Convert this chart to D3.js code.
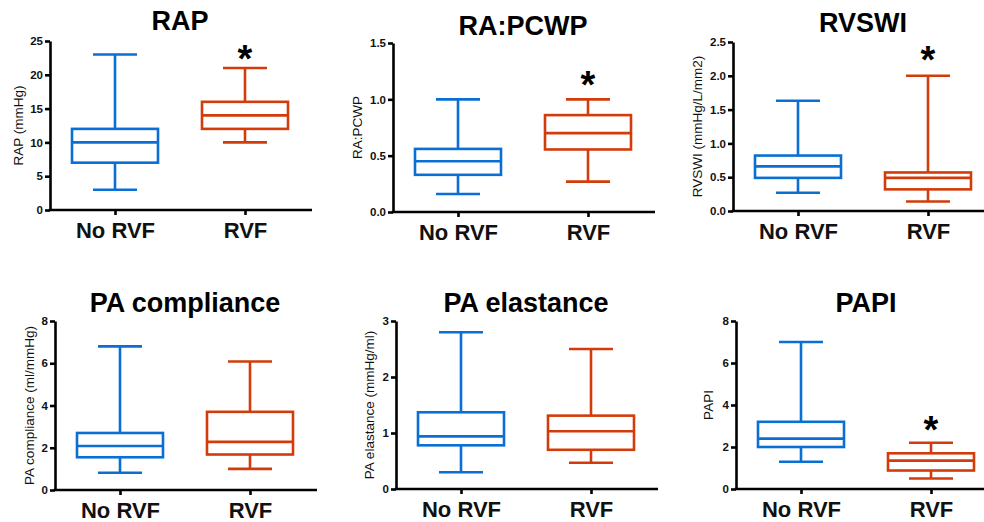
<!DOCTYPE html>
<html>
<head>
<meta charset="utf-8">
<script src="https://cdn.jsdelivr.net/npm/d3@7"></script>
<style>
  body { margin: 0; background: #fff; }
  svg { display: block; font-family: "Liberation Sans", Arial, sans-serif; }
  .axis path, .axis line { stroke: #000; stroke-width: 2.6; }
  .axis text { font-size: 11.5px; font-weight: bold; fill: #111; }
</style>
</head>
<body>
<div id="chart"></div>
<script>
// data: [min, q1, median, q3, max]
const groups = ["No RVF", "RVF"];
const titles = ["RAP", "RA:PCWP", "RVSWI", "PA compliance", "PA elastance", "PAPI"];
const yLabels = ["RAP (mmHg)", "RA:PCWP", "RVSWI (mmHg/L/mm2)", "PA compliance (ml/mmHg)", "PA elastance (mmHg/ml)", "PAPI"];
const yMax = [25, 1.5, 2.5, 8, 3, 8];
const yStep = [5, 0.5, 0.5, 2, 1, 2];
const tickFormats = ["d", ".1f", ".1f", "d", "d", "d"];
const noRvfStats = [
    [3, 7, 10, 12, 23],
    [0.16, 0.33, 0.45, 0.56, 1.0],
    [0.27, 0.49, 0.66, 0.82, 1.63],
    [0.82, 1.55, 2.08, 2.7, 6.8],
    [0.3, 0.78, 0.94, 1.37, 2.8],
    [1.3, 2.0, 2.4, 3.2, 7.0]
];
const rvfStats = [
    [10, 12, 14, 16, 21],
    [0.27, 0.555, 0.70, 0.86, 1.0],
    [0.14, 0.32, 0.49, 0.57, 2.0],
    [1.0, 1.68, 2.28, 3.7, 6.08],
    [0.47, 0.7, 1.03, 1.31, 2.5],
    [0.5, 0.88, 1.35, 1.7, 2.2]
];
// significance star, placed at this y value (null = none)
const starValue = [23.5, 1.2, 2.35, null, null, 3.2];

const width = 984, height = 522;
const colors = ["#0a6fd4", "#d23c0a"];

// panel layout (pixels)
const axisX = [50, 393, 733, 55, 396, 736];
const axisTop = [41, 43, 42, 321, 321, 321];
const axisBottom = [210, 212, 211, 490, 489, 489];
const labelOffset = [32, 36, 36, 26, 27, 28];
const plotWidth = 262;
const boxWidth = 86, capWidth = 44;

const svg = d3.select("#chart")
    .append("svg")
    .attr("width", width)
    .attr("height", height);

titles.forEach((title, i) => {
    const g = svg.append("g").attr("transform", `translate(${axisX[i]},0)`);

    const x = d3.scalePoint()
        .domain(groups)
        .range([0, 260])
        .padding(0.5);

    const y = d3.scaleLinear()
        .domain([0, yMax[i]])
        .range([axisBottom[i], axisTop[i]]);

    const ticks = d3.range(0, yMax[i] + yStep[i] / 2, yStep[i]);

    // boxes
    [noRvfStats[i], rvfStats[i]].forEach((s, k) => {
        const cx = x(groups[k]);
        const b = g.append("g")
            .attr("fill", "none")
            .attr("stroke", colors[k])
            .attr("stroke-width", 2.6);
        // whiskers
        b.append("line").attr("x1", cx).attr("x2", cx).attr("y1", y(s[0])).attr("y2", y(s[1]));
        b.append("line").attr("x1", cx).attr("x2", cx).attr("y1", y(s[3])).attr("y2", y(s[4]));
        b.append("line").attr("x1", cx - capWidth / 2).attr("x2", cx + capWidth / 2).attr("y1", y(s[0])).attr("y2", y(s[0]));
        b.append("line").attr("x1", cx - capWidth / 2).attr("x2", cx + capWidth / 2).attr("y1", y(s[4])).attr("y2", y(s[4]));
        // box + median
        b.append("rect")
            .attr("x", cx - boxWidth / 2)
            .attr("y", y(s[3]))
            .attr("width", boxWidth)
            .attr("height", y(s[1]) - y(s[3]))
            .attr("fill", "#fff");
        b.append("line").attr("x1", cx - boxWidth / 2).attr("x2", cx + boxWidth / 2).attr("y1", y(s[2])).attr("y2", y(s[2]));
    });

    // axes
    g.append("g")
        .attr("class", "axis")
        .call(d3.axisLeft(y).tickValues(ticks).tickFormat(d3.format(tickFormats[i])).tickSize(5).tickPadding(2).tickSizeOuter(0));

    const xAxis = g.append("g")
        .attr("class", "axis")
        .attr("transform", `translate(0,${axisBottom[i]})`)
        .call(d3.axisBottom(x).tickSize(5).tickSizeOuter(0).tickPadding(7));
    xAxis.select(".domain").attr("d", `M-1.3,0H${plotWidth}`);
    xAxis.selectAll("text")
        .style("font-size", "22px")
        .style("font-weight", "bold")
        .attr("fill", "#000");

    // y label
    g.append("text")
        .attr("transform", `translate(${-labelOffset[i]},${(axisTop[i] + axisBottom[i]) / 2}) rotate(-90)`)
        .attr("text-anchor", "middle")
        .attr("dominant-baseline", "central")
        .style("font-size", "13.5px")
        .attr("fill", "#111")
        .text(yLabels[i]);

    // title
    g.append("text")
        .attr("x", 130)
        .attr("y", i < 3 ? [30, 35, 32][i] : 312)
        .attr("text-anchor", "middle")
        .style("font-size", "27px")
        .style("font-weight", "bold")
        .attr("fill", "#000")
        .text(title);

    // star
    if (starValue[i] !== null) {
        g.append("text")
            .attr("x", x(groups[1]))
            .attr("y", y(starValue[i]) + 21)
            .attr("text-anchor", "middle")
            .style("font-size", "38px")
            .style("font-weight", "bold")
            .attr("fill", "#000")
            .text("*");
    }
});
</script>
</body>
</html>
